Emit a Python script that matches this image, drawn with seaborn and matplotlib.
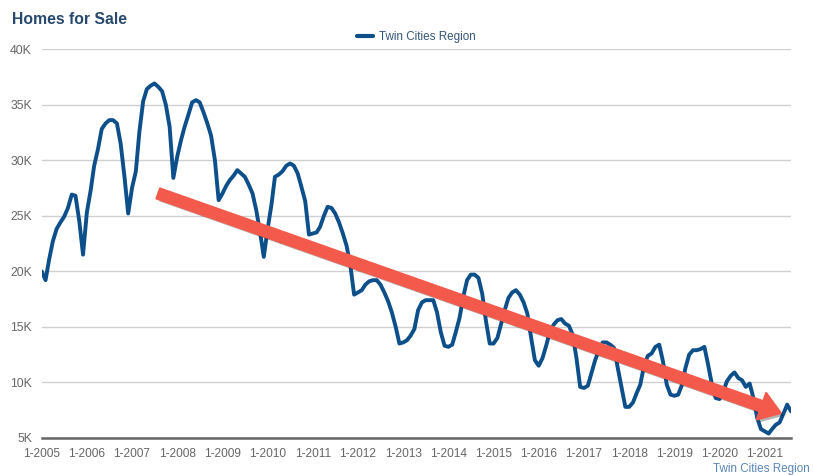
import numpy as np
import pandas as pd
import matplotlib.pyplot as plt
import matplotlib.dates as mdates
import matplotlib.ticker as mticker
import matplotlib.patheffects as pe
import seaborn as sns

# monthly homes for sale, thousands (Twin Cities Region), 1-2005 .. 8-2021
v2005 = [20.0, 19.2, 21.0, 22.7, 23.8, 24.4, 24.9, 25.7, 26.9, 26.8, 24.5, 21.5]
v2006 = [25.3, 27.3, 29.5, 31.0, 32.8, 33.3, 33.6, 33.6, 33.3, 31.5, 28.5, 25.2]
v2007 = [27.5, 29.0, 32.5, 35.3, 36.4, 36.7, 36.9, 36.6, 36.2, 35.0, 33.0, 28.4]
v2008 = [30.3, 31.8, 33.0, 34.1, 35.2, 35.4, 35.2, 34.3, 33.3, 32.2, 30.0, 26.4]
v2009 = [27.0, 27.7, 28.2, 28.6, 29.1, 28.8, 28.5, 27.8, 27.0, 25.5, 23.5, 21.3]
v2010 = [23.8, 26.0, 28.5, 28.7, 29.0, 29.5, 29.7, 29.5, 28.8, 27.6, 26.3, 23.3]
v2011 = [23.4, 23.5, 24.0, 25.0, 25.8, 25.7, 25.2, 24.4, 23.4, 22.3, 20.5, 17.9]
v2012 = [18.1, 18.3, 18.8, 19.1, 19.2, 19.2, 18.8, 18.1, 17.3, 16.3, 15.0, 13.5]
v2013 = [13.6, 13.8, 14.2, 14.8, 16.5, 17.2, 17.4, 17.4, 17.4, 16.3, 14.5, 13.3]
v2014 = [13.2, 13.4, 14.5, 15.8, 17.7, 19.2, 19.7, 19.7, 19.4, 18.0, 15.5, 13.5]
v2015 = [13.5, 14.0, 15.2, 16.5, 17.6, 18.1, 18.3, 17.9, 17.2, 16.2, 14.0, 12.0]
v2016 = [11.5, 12.2, 13.3, 14.6, 15.2, 15.6, 15.7, 15.3, 15.1, 14.3, 12.2, 9.6]
v2017 = [9.5, 9.7, 10.8, 12.0, 12.9, 13.6, 13.6, 13.4, 13.1, 11.3, 9.5, 7.8]
v2018 = [7.8, 8.2, 9.0, 9.8, 11.5, 12.4, 12.6, 13.2, 13.4, 11.9, 9.8, 8.9]
v2019 = [8.8, 8.9, 9.7, 11.3, 12.5, 12.9, 12.9, 13.0, 13.2, 11.6, 9.8, 8.6]
v2020 = [8.5, 9.2, 10.1, 10.6, 10.9, 10.4, 10.2, 9.6, 9.9, 8.6, 6.8, 5.8]
v2021 = [5.6, 5.4, 5.8, 6.2, 6.4, 7.2, 8.0, 7.4]

series_name = 'Twin Cities Region'
y_ticks = [5000, 10000, 15000, 20000, 25000, 30000, 35000, 40000]

# trend arrow (annotation), start / tip in data units
arrow_from = ('2007-08-01', 27000)
arrow_to = ('2021-05-10', 7250)

BLUE = '#0d4f8b'
RED = '#f45a4b'
GREY = '#666666'

values = np.array(v2005 + v2006 + v2007 + v2008 + v2009 + v2010 + v2011 + v2012 +
                  v2013 + v2014 + v2015 + v2016 + v2017 + v2018 + v2019 + v2020 + v2021) * 1000
dates = pd.date_range('2005-01-01', periods=len(values), freq='MS')
df = pd.DataFrame({'month': dates, 'homes': values})

sns.set_style('white')
plt.rcParams['font.family'] = ['Liberation Sans', 'DejaVu Sans']

fig = plt.figure(figsize=(8.13, 4.75), dpi=100)
ax = fig.add_axes([41.7 / 813, 37 / 475, (791 - 41.7) / 813, 389 / 475])

sns.lineplot(data=df, x='month', y='homes', ax=ax, color=BLUE, linewidth=2.8,
             label=series_name, solid_joinstyle='round', solid_capstyle='round')

ax.set_ylim(y_ticks[0], y_ticks[-1])
ax.set_yticks(y_ticks)
ax.yaxis.set_major_formatter(mticker.FuncFormatter(lambda v, p: f'{int(v / 1000)}K'))
ax.set_xlim(dates[0], dates[-1])
ax.xaxis.set_major_locator(mdates.YearLocator())
ax.xaxis.set_major_formatter(mticker.FuncFormatter(
    lambda v, p: f'{mdates.num2date(v).month}-{mdates.num2date(v).year}'))
ax.set_xlabel('')
ax.set_ylabel('')

ax.grid(axis='y', color='#d0d0d0', linewidth=1)
ax.set_axisbelow(True)
for s in ['top', 'right', 'left']:
    ax.spines[s].set_visible(False)
ax.spines['bottom'].set_color(GREY)
ax.spines['bottom'].set_linewidth(1.8)
ax.tick_params(axis='x', direction='out', length=4, width=1.5, color=GREY,
               labelcolor=GREY, labelsize=8.6, pad=3)
ax.tick_params(axis='y', length=0, labelcolor=GREY, labelsize=8.8, pad=7)

ann = ax.annotate('', xy=(mdates.date2num(pd.Timestamp(arrow_to[0])), arrow_to[1]),
                  xytext=(mdates.date2num(pd.Timestamp(arrow_from[0])), arrow_from[1]),
                  arrowprops=dict(arrowstyle='simple,head_length=1.05,head_width=1.45,tail_width=0.55',
                                  mutation_scale=14, fc=RED, ec=RED, lw=1.5,
                                  shrinkA=0, shrinkB=0, joinstyle='round', capstyle='round'))
ann.arrow_patch.set_path_effects([pe.SimplePatchShadow(offset=(2, -2), shadow_rgbFace='black', alpha=0.3),
                                  pe.Normal()])

leg = ax.legend(loc='center', bbox_to_anchor=(0.5, 1.031), frameon=False, fontsize=8.4,
                handlelength=1.4, handletextpad=0.5, labelcolor='#35557a')
for line in leg.get_lines():
    line.set_linewidth(3)

fig.text(12 / 813, 1 - 24 / 475, 'Homes for Sale', fontsize=11.3, fontweight='bold',
         color='#27496d', va='baseline', ha='left')
fig.text(810 / 813, 1 - 472 / 475, series_name, fontsize=8.4, color='#5a86b5',
         va='baseline', ha='right')

fig.savefig('out.png', dpi=100)
